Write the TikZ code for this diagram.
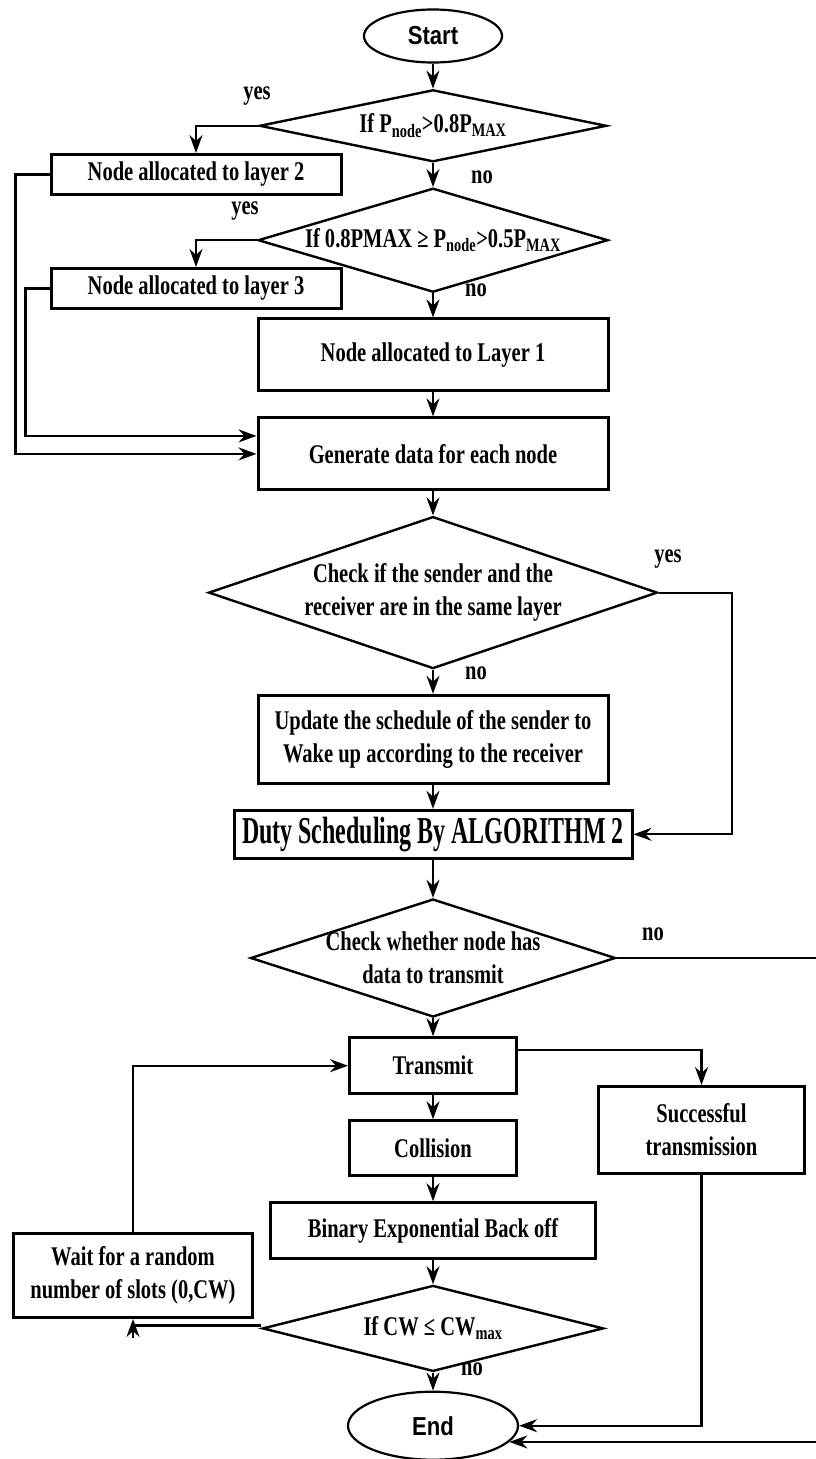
\documentclass[tikz,border=0pt]{standalone}
\usepackage{fontspec}
\setmainfont{Liberation Serif}[FakeStretch=0.76]
\newfontfamily\termfont{Liberation Sans}[FakeStretch=0.85]
\newfontfamily\dutyfont{Liberation Serif}[FakeStretch=0.63]
\usetikzlibrary{positioning, shapes.geometric, arrows.meta}
\tikzset{
    procbox/.style={
        draw, rectangle, line width=3pt, inner sep=2pt,
        align=center, font=\fontsize{27}{33}\selectfont\bfseries,
    },
    decision/.style={
        draw, diamond, line width=2.4pt, inner sep=0pt,
    },
    dtext/.style={
        align=center, font=\fontsize{27}{33}\selectfont\bfseries,
    },
    terminal/.style={
        draw, ellipse, line width=2.2pt, inner sep=0pt,
        font=\termfont\fontsize{26}{30}\selectfont\bfseries,
    },
    lbl/.style={
        font=\fontsize{27}{33}\selectfont\bfseries, inner sep=0pt,
    },
    line/.style={
        line width=2.2pt,
    },
    arrow/.style={
        -{Stealth[length=18pt, width=13pt, inset=6pt]}, line width=2.2pt,
    },
}

\begin{document}
\begin{tikzpicture}[x=1pt, y=-1pt]
\useasboundingbox (0,0) rectangle (815,1459);

% ── Layer allocation ─────────────────────────────────────────
\node[terminal, minimum width=138pt, minimum height=53pt] (start) at (433,36) {Start};
\node[decision, minimum width=347pt, minimum height=72pt, below=25pt of start,
      label={[dtext]center:{If P\textsubscript{node}>0.8P\textsubscript{MAX}}}] (ifhigh) {};
\node[decision, minimum width=350pt, minimum height=104pt, below=24pt of ifhigh,
      label={[dtext]center:{If 0.8PMAX ≥ P\textsubscript{node}>0.5P\textsubscript{MAX}}}] (ifmid) {};
\node[procbox, minimum width=350pt, minimum height=72pt, below=24pt of ifmid] (lay1) {Node allocated to Layer 1};
\node[procbox, minimum width=350pt, minimum height=72pt, below=24pt of lay1] (gen) {Generate data for each node};

\node[procbox, minimum width=290pt, minimum height=40pt] (lay2) at (196,174.5) {Node allocated to layer 2};
\node[procbox, minimum width=290pt, minimum height=40pt] (lay3) at (196,288.5) {Node allocated to layer 3};

\node[lbl] (yes1) at (257,96) {yes};
\node[lbl] (no1) at (482,177) {no};
\node[lbl] (yes2) at (245,211) {yes};
\node[lbl] (no2) at (476,290) {no};

% ── Scheduling ───────────────────────────────────────────────
\node[decision, minimum width=449pt, minimum height=152pt, below=24pt of gen,
      label={[dtext]center:{Check if the sender and the\\receiver are in the same layer}}] (samelayer) {};
\node[procbox, minimum width=350pt, minimum height=88pt, below=24pt of samelayer] (update) {Update the schedule of the sender to\\Wake up according to the receiver};
\node[procbox, minimum width=398pt, minimum height=48pt, below=24pt of update,
      font=\dutyfont\fontsize{38}{44}\selectfont\bfseries] (duty) {Duty Scheduling By ALGORITHM 2};

\node[lbl] (yes3) at (668,559) {yes};
\node[lbl] (no3) at (476,673) {no};

% ── Transmission ─────────────────────────────────────────────
\node[decision, minimum width=365pt, minimum height=118pt, below=38pt of duty,
      label={[dtext]center:{Check whether node has\\data to transmit}}] (hasdata) {};
\node[procbox, minimum width=167pt, minimum height=56pt, below=18pt of hasdata] (transmit) {Transmit};
\node[procbox, minimum width=167pt, minimum height=55pt, below=24pt of transmit] (collision) {Collision};
\node[procbox, minimum width=325pt, minimum height=56pt, below=24pt of collision] (backoff) {Binary Exponential Back off};
\node[decision, minimum width=341pt, minimum height=86pt, below=24pt of backoff,
      label={[dtext]center:{If CW ≤ CW\textsubscript{max}}}] (ifcw) {};
\node[terminal, minimum width=170pt, minimum height=68pt, below=18pt of ifcw] (finish) {End};

\node[procbox, minimum width=206pt, minimum height=87pt] (success) at (701.5,1130) {Successful\\transmission};
\node[procbox, minimum width=239pt, minimum height=84pt] (wait) at (133,1275.5) {Wait for a random\\number of slots (0,CW)};

\node[lbl] (no4) at (653,934) {no};
\node[lbl] (no5) at (472,1369) {no};

% ── Connectors ───────────────────────────────────────────────
\draw[arrow] (start) -- (ifhigh);
\draw[arrow] (ifhigh.west) -| (lay2.north);
\draw[arrow] (ifhigh) -- (ifmid);
\draw[arrow] (ifmid.west) -| (lay3.north);
\draw[arrow] (ifmid) -- (lay1);
\draw[arrow] (lay1) -- (gen);
\draw[arrow] (lay2.west) -- ++(-34pt,0) |- (gen.west);
\draw[arrow] (lay3.west) -- ++(-24pt,0) |- ([yshift=18pt]gen.west);

\draw[arrow] (gen) -- (samelayer);
\draw[arrow] (samelayer.east) -- ++(73pt,0) |- (duty.east);
\draw[arrow] (samelayer) -- (update);
\draw[arrow] (update) -- (duty);
\draw[arrow] (duty) -- (hasdata);

\draw[arrow] (hasdata.east) -- ++(205pt,0) |- (finish.-12);
\draw[arrow] (hasdata) -- (transmit);
\draw[arrow] ([yshift=16pt]transmit.east) -| (success.north);
\draw[arrow] (transmit) -- (collision);
\draw[arrow] (collision) -- (backoff);
\draw[arrow] (backoff) -- (ifcw);
\draw[line] ([yshift=3pt]ifcw.west) -- ([yshift=3pt]ifcw.west -| wait.south);
\draw[arrow] ([yshift=-19pt]wait.south) -- (wait.south);
\draw[arrow] (wait.north) |- (transmit.west);
\draw[arrow] (ifcw) -- (finish);
\draw[arrow] (success.south) |- (finish.east);

\end{tikzpicture}
\end{document}
